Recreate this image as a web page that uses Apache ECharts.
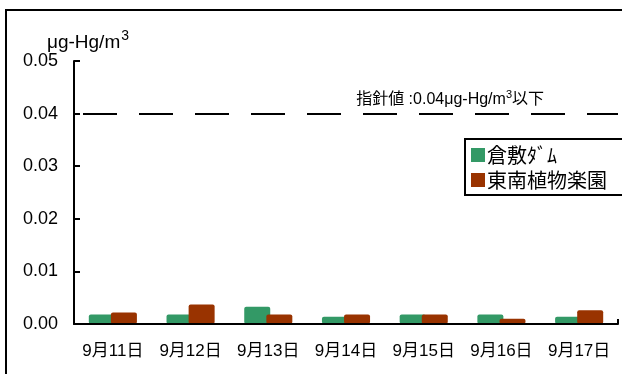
<!DOCTYPE html>
<html>
<head>
<meta charset="utf-8">
<script src="https://cdn.jsdelivr.net/npm/echarts@6/dist/echarts.min.js"></script>
<style>
  html, body { margin: 0; padding: 0; background: #fff; }
  #chart { width: 622px; height: 374px; }
</style>
</head>
<body>
<div id="chart"></div>
<script>
// 大気中水銀濃度（μg-Hg/m³）
const categories = ['9月11日', '9月12日', '9月13日', '9月14日', '9月15日', '9月16日', '9月17日'];
const seriesNames = ['倉敷ﾀﾞﾑ', '東南植物楽園'];
const kurashikiDam = [0.0018, 0.0018, 0.0033, 0.0014, 0.0018, 0.0018, 0.0014];
const tonanGarden = [0.0022, 0.0037, 0.0018, 0.0018, 0.0018, 0.0010, 0.0026];
const guidelineValue = 0.04;
const yTicks = { min: 0, max: 0.05, interval: 0.01 };

const FONT = '"Liberation Sans", Arial, "Noto Sans CJK JP", sans-serif';
const chart = echarts.init(document.getElementById('chart'), null, { renderer: 'canvas' });

chart.setOption({
  animation: false,
  backgroundColor: '#ffffff',
  textStyle: { fontFamily: FONT, color: '#000' },
  graphic: [{
    type: 'rect',
    shape: { x: 6, y: 10, width: 700, height: 500 },
    style: { fill: 'none', stroke: '#000', lineWidth: 2 },
    silent: true,
    z: 0
  }],
  grid: { left: 74, right: 4, top: 61, bottom: 50, containLabel: false },
  legend: {
    orient: 'vertical',
    left: 465,
    top: 139,
    width: 152,
    padding: [6, 20, 5, 6],
    itemGap: 5,
    itemWidth: 14,
    itemHeight: 14,
    icon: 'rect',
    borderColor: '#000',
    borderWidth: 2,
    backgroundColor: '#fff',
    textStyle: { fontSize: 20, color: '#000', fontFamily: '"Noto Sans CJK JP", sans-serif', padding: [0, 0, 0, -3] },
    data: seriesNames
  },
  xAxis: {
    type: 'category',
    data: categories,
    z: 5,
    axisLine: { lineStyle: { color: '#000', width: 2 } },
    axisTick: {
      show: true,
      inside: true,
      length: 5,
      interval: function (index) { return index === 6; },
      lineStyle: { color: '#000', width: 2 }
    },
    axisLabel: { fontSize: 17, color: '#000', margin: 19, fontFamily: FONT, interval: 0 }
  },
  yAxis: {
    type: 'value',
    min: yTicks.min,
    max: yTicks.max,
    interval: yTicks.interval,
    name: '{u|μg-Hg/m}{s|3}',
    nameLocation: 'end',
    nameGap: 0,
    nameTextStyle: {
      align: 'center',
      padding: [0, 0, 0, 28],
      rich: {
        u: { fontSize: 19, color: '#000', fontFamily: FONT },
        s: { fontSize: 14, color: '#000', fontFamily: FONT, padding: [0, 0, 12, 1] }
      }
    },
    splitLine: { show: false },
    axisLine: { show: true, lineStyle: { color: '#000', width: 2 } },
    axisTick: { show: true, inside: true, length: 6, lineStyle: { color: '#000', width: 2 } },
    axisLabel: {
      fontSize: 18,
      color: '#000',
      margin: 16,
      fontFamily: FONT,
      formatter: function (v) { return v.toFixed(2); }
    }
  },
  series: [
    {
      name: seriesNames[0],
      type: 'bar',
      data: kurashikiDam,
      barWidth: 26,
      barGap: '-15%',
      itemStyle: { color: '#339966', borderRadius: 2 },
      markLine: {
        silent: true,
        symbol: ['none', 'none'],
        lineStyle: { color: '#000', width: 2, type: [34, 22], dashOffset: 47 },
        label: {
          show: true,
          position: 'insideEndTop',
          distance: [74, 5],
          formatter: '{a|指針値 :0.04μg-Hg/m}{s|3}{a|以下}',
          rich: {
            a: { fontSize: 16, color: '#000', fontFamily: FONT },
            s: { fontSize: 11, color: '#000', fontFamily: FONT, padding: [0, 0, 8, 0] }
          }
        },
        data: [{ yAxis: guidelineValue }]
      }
    },
    {
      name: seriesNames[1],
      type: 'bar',
      data: tonanGarden,
      barWidth: 26,
      barGap: '-15%',
      itemStyle: { color: '#993300', borderRadius: 2 }
    }
  ]
});
</script>
</body>
</html>
